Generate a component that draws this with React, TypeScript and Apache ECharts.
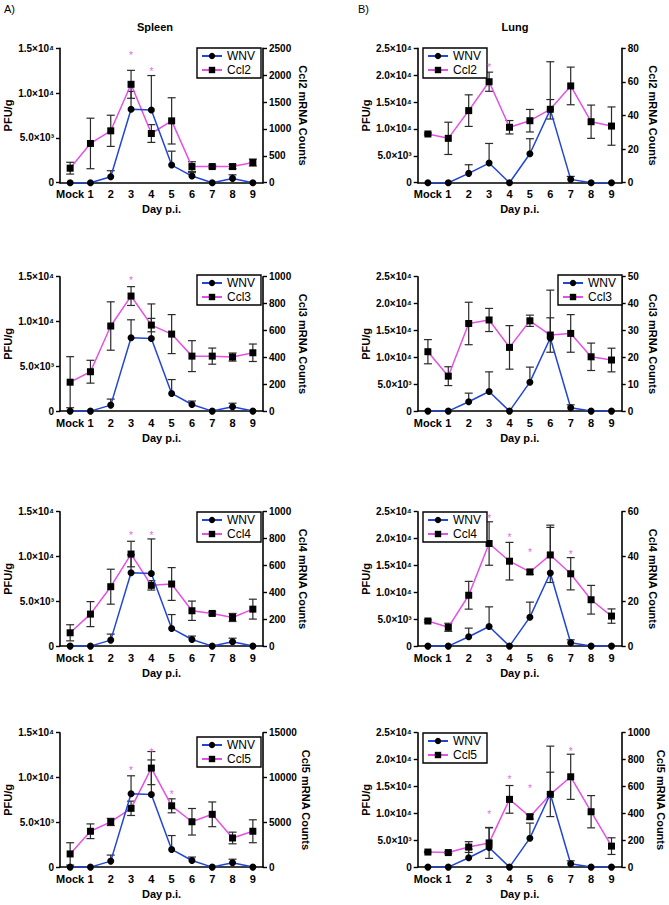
import React, { useEffect, useRef } from "react";
import * as echarts from "echarts";

const FONT = "'Liberation Sans', Arial, Helvetica, sans-serif";

// ---------- data ----------
const days = ["Mock", "1", "2", "3", "4", "5", "6", "7", "8", "9"];

const spleenWnv = [0, 0, 670, 8190, 8110, 1970, 740, 0, 480, 0];
const spleenWnvSd = [0, 0, 670, 2000, 3850, 1550, 380, 0, 400, 0];
const lungWnv = [0, 0, 1740, 3650, 0, 5380, 13600, 620, 0, 0];
const lungWnvSd = [0, 0, 1600, 3650, 0, 2800, 8900, 550, 0, 0];

const spleenCcl2 = [270, 730, 965, 1830, 915, 1150, 300, 300, 300, 375];
const spleenCcl2Sd = [110, 470, 290, 260, 165, 430, 90, 25, 40, 65];
const spleenCcl2Stars = [[3, 2420], [4, 2115]];

const spleenCcl3 = [215, 293, 633, 856, 640, 573, 409, 409, 402, 434];
const spleenCcl3Sd = [190, 85, 180, 70, 50, 145, 115, 60, 30, 65];
const spleenCcl3Stars = [[3, 993]];

const spleenCcl4 = [99, 238, 442, 685, 452, 462, 263, 243, 213, 275];
const spleenCcl4Sd = [60, 93, 130, 95, 35, 122, 72, 12, 30, 74];
const spleenCcl4Stars = [[3, 844], [4, 844]];

const spleenCcl5 = [1470, 4000, 5040, 6560, 11050, 6840, 5060, 5890, 3250, 4000];
const spleenCcl5Sd = [1250, 820, 400, 800, 1850, 780, 1480, 1380, 650, 1280];
const spleenCcl5Stars = [[3, 11100], [4, 13070], [5, 8425]];

const lungCcl2 = [29.0, 26.4, 42.9, 60.1, 33.0, 36.9, 43.7, 57.6, 36.3, 33.7];
const lungCcl2Sd = [0.6, 9.6, 9.4, 5.7, 4.0, 6.7, 5.8, 11.2, 9.9, 11.4];
const lungCcl2Stars = [[3, 70]];

const lungCcl3 = [22.1, 13.0, 32.6, 33.9, 23.7, 33.6, 28.3, 28.9, 20.2, 19.0];
const lungCcl3Sd = [4.5, 3.5, 7.9, 4.3, 8.1, 2.1, 6.4, 7.0, 5.1, 4.4];
const lungCcl3Stars: number[][] = [];

const lungCcl4 = [11.2, 8.4, 22.7, 45.8, 37.9, 33.1, 40.7, 32.3, 20.7, 13.4];
const lungCcl4Sd = [0.5, 1.8, 6.2, 9.7, 8.4, 1.1, 12.3, 7.2, 6.4, 3.2];
const lungCcl4Stars = [[3, 58], [4, 49.6], [5, 42.9], [7, 42.1]];

const lungCcl5 = [112, 108, 149, 180, 504, 375, 541, 672, 412, 156];
const lungCcl5Sd = [5, 8, 40, 115, 103, 17, 165, 168, 120, 62];
const lungCcl5Stars = [[3, 413], [4, 669], [5, 606], [7, 877]];

const spleenLeftTicks = ["0", "5.0×10³", "1.0×10⁴", "1.5×10⁴"];
const lungLeftTicks = ["0", "5.0×10³", "1.0×10⁴", "1.5×10⁴", "2.0×10⁴", "2.5×10⁴"];

// ---------- panel definitions (row-major, 2 columns) ----------
const spleen = { wnv: spleenWnv, wnvSd: spleenWnvSd, wnvMax: 15000, wnvTicks: spleenLeftTicks };
const lung = { wnv: lungWnv, wnvSd: lungWnvSd, wnvMax: 25000, wnvTicks: lungLeftTicks };

const panels = [
  { ...spleen, ccl: "Ccl2", vals: spleenCcl2, sd: spleenCcl2Sd, stars: spleenCcl2Stars, max: 2500, interval: 500 },
  { ...lung, ccl: "Ccl2", vals: lungCcl2, sd: lungCcl2Sd, stars: lungCcl2Stars, max: 80, interval: 20 },
  { ...spleen, ccl: "Ccl3", vals: spleenCcl3, sd: spleenCcl3Sd, stars: spleenCcl3Stars, max: 1000, interval: 200 },
  { ...lung, ccl: "Ccl3", vals: lungCcl3, sd: lungCcl3Sd, stars: lungCcl3Stars, max: 50, interval: 10 },
  { ...spleen, ccl: "Ccl4", vals: spleenCcl4, sd: spleenCcl4Sd, stars: spleenCcl4Stars, max: 1000, interval: 200 },
  { ...lung, ccl: "Ccl4", vals: lungCcl4, sd: lungCcl4Sd, stars: lungCcl4Stars, max: 60, interval: 20 },
  { ...spleen, ccl: "Ccl5", vals: spleenCcl5, sd: spleenCcl5Sd, stars: spleenCcl5Stars, max: 15000, interval: 5000 },
  { ...lung, ccl: "Ccl5", vals: lungCcl5, sd: lungCcl5Sd, stars: lungCcl5Stars, max: 1000, interval: 200 },
];

// ---------- layout ----------
const colLeft = [60, 417.7];
const colWidth = [203, 204];
const rowTop = [48.3, 276.7, 511.7, 732.7];
const gridH = 134.4;
const leftNameGap = [47, 45];
const rightNameGap = [34, 26, 34, 26, 34, 26, 37, 34];
const legendPos: any[] = [
  { left: 197, top: 48 },
  { left: 423, top: 48 },
  { left: 197, top: 275 },
  { right: 47, top: 275 },
  { left: 197, top: 512 },
  { left: 423, top: 512 },
  { left: 197, top: 737 },
  { left: 423, top: 733 },
];

const BLUE = "#2146d6";
const MAGENTA = "#e650e6";
const STAR = "#e468e4";
const ERR = "#2a2a2a";

function errRender(both: boolean) {
  return (params: any, api: any) => {
    const i = api.value(0);
    const top = api.coord([i, api.value(2)]);
    const bot = api.coord([i, api.value(1)]);
    const hw = 4;
    const style = { stroke: ERR, lineWidth: 1.2 };
    const children: any[] = [
      { type: "line", shape: { x1: top[0], y1: top[1], x2: bot[0], y2: bot[1] }, style },
      { type: "line", shape: { x1: top[0] - hw, y1: top[1], x2: top[0] + hw, y2: top[1] }, style },
    ];
    if (both) {
      children.push({ type: "line", shape: { x1: bot[0] - hw, y1: bot[1], x2: bot[0] + hw, y2: bot[1] }, style });
    }
    return { type: "group", children };
  };
}

function starRender(params: any, api: any) {
  const p = api.coord([api.value(0), api.value(1)]);
  return {
    type: "text",
    x: p[0],
    y: p[1] + 2.5,
    style: { text: "*", fill: STAR, fontSize: 10, fontFamily: FONT, align: "center", verticalAlign: "middle" },
  };
}

function buildOption() {
  const grid: any[] = [];
  const xAxis: any[] = [];
  const yAxis: any[] = [];
  const series: any[] = [];
  const legend: any[] = [];

  panels.forEach((p, k) => {
    const col = k % 2;
    const row = Math.floor(k / 2);
    grid.push({ left: colLeft[col], top: rowTop[row], width: colWidth[col], height: gridH, containLabel: false });

    xAxis.push({
      type: "category",
      gridIndex: k,
      data: days,
      boundaryGap: true,
      axisLine: { lineStyle: { color: "#000", width: 1.6 } },
      axisTick: { alignWithLabel: true, length: 4, lineStyle: { color: "#000", width: 1.4 } },
      axisLabel: { color: "#000", fontWeight: "bold", fontSize: 11, fontFamily: FONT, margin: 6, interval: 0 },
      name: "Day p.i.",
      nameLocation: "middle",
      nameGap: 21,
      nameTextStyle: { color: "#000", fontWeight: "bold", fontSize: 11, fontFamily: FONT },
      splitLine: { show: false },
    });

    const leftTicks = p.wnvTicks;
    yAxis.push({
      type: "value",
      gridIndex: k,
      position: "left",
      min: 0,
      max: p.wnvMax,
      interval: 5000,
      axisLine: { show: true, lineStyle: { color: "#000", width: 1.6 } },
      axisTick: { show: true, length: 4, lineStyle: { color: "#000", width: 1.4 } },
      axisLabel: {
        color: "#000",
        fontWeight: "bold",
        fontSize: 10,
        fontFamily: FONT,
        margin: 6,
        formatter: (v: number) => leftTicks[Math.round(v / 5000)] ?? "",
      },
      splitLine: { show: false },
      name: "PFU/g",
      nameLocation: "middle",
      nameGap: leftNameGap[col],
      nameTextStyle: { color: "#000", fontWeight: "bold", fontSize: 11, fontFamily: FONT },
    });
    yAxis.push({
      type: "value",
      gridIndex: k,
      position: "right",
      min: 0,
      max: p.max,
      interval: p.interval,
      axisLine: { show: true, lineStyle: { color: "#000", width: 1.6 } },
      axisTick: { show: true, length: 4, lineStyle: { color: "#000", width: 1.4 } },
      axisLabel: {
        color: "#000",
        fontWeight: "bold",
        fontSize: 10,
        fontFamily: FONT,
        margin: 6,
        formatter: (v: number) => String(v),
      },
      splitLine: { show: false },
      name: p.ccl + " mRNA Counts",
      nameLocation: "middle",
      nameRotate: -90,
      nameGap: rightNameGap[k],
      nameTextStyle: { color: "#000", fontWeight: "bold", fontSize: 11, fontFamily: FONT },
    });

    const ly = 2 * k;
    const ry = 2 * k + 1;

    series.push({
      type: "custom",
      xAxisIndex: k,
      yAxisIndex: ly,
      renderItem: errRender(false),
      encode: { x: 0, y: [1, 2] },
      data: p.wnv.map((v, i) => [i, v, v + p.wnvSd[i]]).filter((d, i) => p.wnvSd[i] > 0),
      z: 2,
      silent: true,
    });
    series.push({
      type: "custom",
      xAxisIndex: k,
      yAxisIndex: ry,
      renderItem: errRender(true),
      encode: { x: 0, y: [1, 2] },
      data: p.vals.map((v, i) => [i, Math.max(0, v - p.sd[i]), v + p.sd[i]]),
      z: 2,
      silent: true,
    });
    series.push({
      name: p.ccl,
      type: "line",
      xAxisIndex: k,
      yAxisIndex: ry,
      data: p.vals,
      symbol: "rect",
      symbolSize: 7,
      lineStyle: { color: MAGENTA, width: 1.5 },
      itemStyle: { color: "#000" },
      z: 3,
    });
    series.push({
      name: "WNV",
      type: "line",
      xAxisIndex: k,
      yAxisIndex: ly,
      data: p.wnv,
      symbol: "circle",
      symbolSize: 7,
      lineStyle: { color: BLUE, width: 1.5 },
      itemStyle: { color: "#000" },
      z: 4,
    });
    series.push({
      type: "custom",
      xAxisIndex: k,
      yAxisIndex: ry,
      renderItem: starRender,
      encode: { x: 0, y: 1 },
      data: p.stars,
      z: 5,
      silent: true,
    });

    legend.push({
      ...legendPos[k],
      orient: "vertical",
      data: ["WNV", p.ccl],
      itemWidth: 20,
      itemHeight: 8,
      itemGap: 2,
      padding: [2, 6, 2, 4],
      borderColor: "#000",
      borderWidth: 1.4,
      borderRadius: 0,
      backgroundColor: "#fff",
      selectedMode: false,
      textStyle: { color: "#000", fontSize: 12, fontFamily: FONT },
    });
  });

  const graphic = [
    { type: "text", x: 4, y: 9, style: { text: "A)", fontSize: 11, fontFamily: FONT, fill: "#000", verticalAlign: "middle" } },
    { type: "text", x: 358, y: 9, style: { text: "B)", fontSize: 11, fontFamily: FONT, fill: "#000", verticalAlign: "middle" } },
    { type: "text", x: 155, y: 27, style: { text: "Spleen", fontSize: 11, fontWeight: "bold", fontFamily: FONT, fill: "#000", align: "center", verticalAlign: "middle" } },
    { type: "text", x: 515, y: 27, style: { text: "Lung", fontSize: 11, fontWeight: "bold", fontFamily: FONT, fill: "#000", align: "center", verticalAlign: "middle" } },
  ];

  return {
    animation: false,
    backgroundColor: "#fff",
    textStyle: { fontFamily: FONT },
    grid,
    xAxis,
    yAxis,
    series,
    legend,
    graphic,
  };
}

export default function App() {
  const ref = useRef<HTMLDivElement>(null);
  useEffect(() => {
    if (!ref.current) return;
    const chart = echarts.init(ref.current, undefined, { renderer: "svg" });
    chart.setOption(buildOption() as any);
    return () => chart.dispose();
  }, []);
  return (
    <div
      ref={ref}
      style={{ position: "absolute", left: 0, top: 0, width: 669, height: 905, background: "#fff" }}
    />
  );
}
